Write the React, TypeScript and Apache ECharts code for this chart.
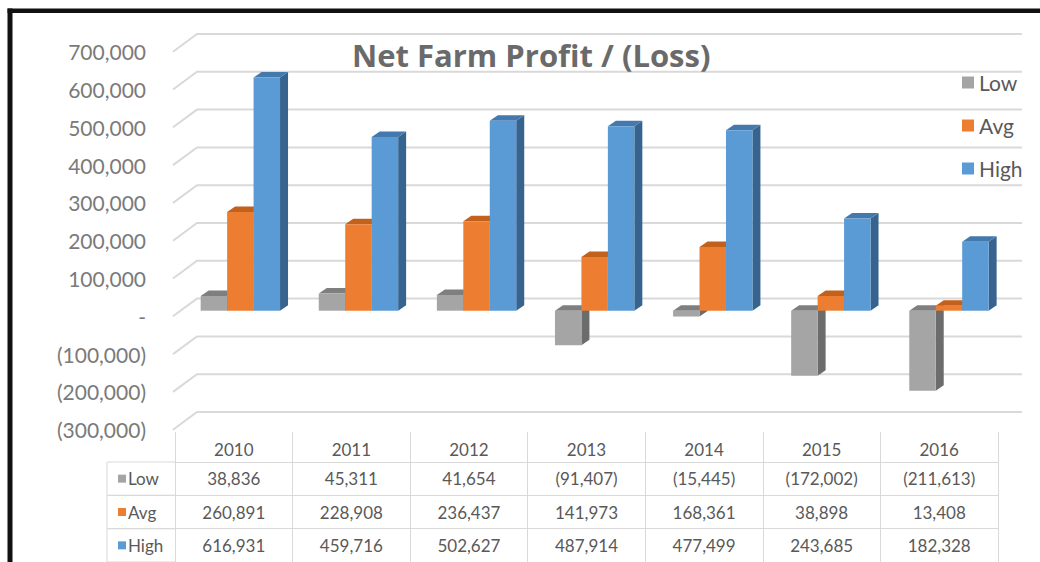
import React, { useEffect, useRef } from "react";
import * as echarts from "echarts";

const years = ["2010", "2011", "2012", "2013", "2014", "2015", "2016"];
const seriesNames = ["Low", "Avg", "High"];
const lowValues = [38836, 45311, 41654, -91407, -15445, -172002, -211613];
const avgValues = [260891, 228908, 236437, 141973, 168361, 38898, 13408];
const highValues = [616931, 459716, 502627, 487914, 477499, 243685, 182328];
const yTicks = [-300000, -200000, -100000, 0, 100000, 200000, 300000, 400000, 500000, 600000, 700000];

const frontColors = ["#a5a5a5", "#ed7d31", "#5b9bd5"];
const topColors = ["#7f7f7f", "#c2601d", "#4479ae"];
const sideColors = ["#6c6c6c", "#a9521a", "#37648f"];

const FONT = "Lato";
const fmt = (v: number) => {
  const s = Math.abs(v).toLocaleString("en-US");
  return v < 0 ? `(${s})` : s;
};

const allValues = [lowValues, avgValues, highValues];

export default function App() {
  const ref = useRef<HTMLDivElement>(null);
  useEffect(() => {
    if (!ref.current) return;
    const chart = echarts.init(ref.current, undefined, { renderer: "svg" });
    const DX = 8;
    const DY = -5.5;

    const barSeries = allValues.map((vals, k) => ({
      type: "custom",
      name: seriesNames[k],
      xAxisIndex: 0,
      yAxisIndex: 0,
      z: 3 + k,
      itemStyle: { color: frontColors[k] },
      data: vals.map((v, i) => [i, v]),
      encode: { x: 0, y: 1 },
      renderItem: (params: any, api: any) => {
        const i = api.value(0);
        const v = api.value(1);
        const band = api.size([1, 0])[0];
        const bw = band * 0.224;
        const c0 = api.coord([i, 0]);
        const cv = api.coord([i, v]);
        const x0 = c0[0] - 1.5 * bw + k * bw;
        const x1 = x0 + bw;
        const yTop = Math.min(c0[1], cv[1]);
        const yBot = Math.max(c0[1], cv[1]);
        return {
          type: "group",
          children: [
            {
              type: "polygon",
              shape: { points: [[x1, yTop], [x1 + DX, yTop + DY], [x1 + DX, yBot + DY], [x1, yBot]] },
              style: { fill: sideColors[k] },
            },
            {
              type: "polygon",
              shape: { points: [[x0, yTop], [x1, yTop], [x1 + DX, yTop + DY], [x0 + DX, yTop + DY]] },
              style: { fill: topColors[k] },
            },
            {
              type: "rect",
              shape: { x: x0, y: yTop, width: bw, height: Math.max(yBot - yTop, 0.5) },
              style: { fill: frontColors[k] },
            },
          ],
        };
      },
    }));

    const gridSeries = {
      type: "custom",
      name: "grid",
      xAxisIndex: 1,
      yAxisIndex: 1,
      z: 1,
      silent: true,
      data: yTicks.map((v) => [0, v]),
      encode: { x: 0, y: 1 },
      renderItem: (params: any, api: any) => {
        const cs = params.coordSys;
        const y = api.coord([0, api.value(1)])[1];
        return {
          type: "polyline",
          shape: {
            points: [
              [cs.x - 2, y],
              [cs.x + 22, y - 17.7],
              [cs.x + cs.width + 24, y - 17.7],
            ],
          },
          style: { stroke: "#d9d9d9", lineWidth: 2, fill: null },
        };
      },
    };

    const tableData: any[] = [];
    allValues.forEach((vals, r) => vals.forEach((v, i) => tableData.push([i, r, v])));

    const tableSeries = {
      type: "custom",
      name: "table",
      xAxisIndex: 2,
      yAxisIndex: 2,
      z: 2,
      silent: true,
      data: tableData,
      encode: { x: 0, y: 1 },
      renderItem: (params: any, api: any) => {
        const p = api.coord([api.value(0), api.value(1)]);
        return {
          type: "text",
          x: p[0],
          y: p[1],
          style: {
            text: fmt(api.value(2)),
            fill: "#595959",
            font: `17px ${FONT}`,
            align: "center",
            verticalAlign: "middle",
          },
        };
      },
    };

    const rowLabelSeries = {
      type: "custom",
      name: "rowLabels",
      xAxisIndex: 2,
      yAxisIndex: 2,
      z: 2,
      silent: true,
      data: seriesNames.map((n, r) => [0, r]),
      encode: { x: 0, y: 1 },
      renderItem: (params: any, api: any) => {
        const cs = params.coordSys;
        const r = api.value(1);
        const y = api.coord([0, r])[1];
        const h = api.size([0, 1])[1];
        const lx = cs.x - 68;
        return {
          type: "group",
          children: [
            { type: "line", shape: { x1: lx, y1: y - h / 2, x2: cs.x, y2: y - h / 2 }, style: { stroke: "#d9d9d9", lineWidth: 1 } },
            { type: "line", shape: { x1: lx, y1: y + h / 2, x2: cs.x, y2: y + h / 2 }, style: { stroke: "#d9d9d9", lineWidth: 1 } },
            { type: "line", shape: { x1: lx, y1: y - h / 2, x2: lx, y2: y + h / 2 }, style: { stroke: "#d9d9d9", lineWidth: 1 } },
            { type: "rect", shape: { x: cs.x - 57, y: y - 4, width: 8, height: 8 }, style: { fill: frontColors[r] } },
            {
              type: "text",
              x: cs.x - 47,
              y: y,
              style: { text: seriesNames[r], fill: "#595959", font: `17px ${FONT}`, align: "left", verticalAlign: "middle" },
            },
          ],
        };
      },
    };

    chart.setOption({
      animation: false,
      backgroundColor: "#ffffff",
      textStyle: { fontFamily: FONT },
      title: {
        text: "Net Farm Profit / (Loss)",
        left: 352,
        top: 39,
        padding: 0,
        textStyle: { fontSize: 31, fontWeight: "bold", color: "#6a6a6a", fontFamily: "Open Sans" },
      },
      legend: {
        data: seriesNames,
        orient: "vertical",
        left: 962,
        top: 72,
        padding: 0,
        itemWidth: 12,
        itemHeight: 12,
        itemGap: 22,
        icon: "rect",
        textStyle: { fontSize: 21, color: "#595959", fontFamily: FONT },
      },
      graphic: [
        { type: "rect", shape: { x: 7.5, y: 8.5, width: 1040, height: 4.5 }, style: { fill: "#111111" }, z: 100 },
        { type: "rect", shape: { x: 7.5, y: 8.5, width: 5, height: 560 }, style: { fill: "#111111" }, z: 100 },
      ],
      grid: [
        { left: 181.3, top: 46.1, width: 826.7, height: 378 },
        { left: 175, top: 51.7, width: 823, height: 378 },
        { left: 175, top: 462, width: 823, height: 101 },
      ],
      xAxis: [
        { gridIndex: 0, type: "category", data: years, show: false },
        { gridIndex: 1, type: "category", data: years, show: false },
        {
          gridIndex: 2,
          type: "category",
          data: years,
          position: "top",
          axisLabel: { show: true, margin: 4, fontSize: 17, color: "#595959", fontFamily: FONT },
          axisLine: { show: true, lineStyle: { color: "#d9d9d9", width: 1 } },
          axisTick: { show: true, alignWithLabel: false, length: 30, lineStyle: { color: "#d9d9d9", width: 1 } },
          splitLine: { show: true, lineStyle: { color: "#d9d9d9", width: 1 } },
        },
      ],
      yAxis: [
        { gridIndex: 0, type: "value", min: -300000, max: 700000, interval: 100000, show: false },
        {
          gridIndex: 1,
          type: "value",
          min: -300000,
          max: 700000,
          interval: 100000,
          axisLine: { show: false },
          axisTick: { show: false },
          splitLine: { show: false },
          axisLabel: {
            margin: 29,
            fontSize: 21,
            color: "#7a7a7a",
            fontFamily: FONT,
            formatter: (v: number) => (v === 0 ? "-" : fmt(v)),
          },
        },
        {
          gridIndex: 2,
          type: "category",
          data: seriesNames,
          inverse: true,
          axisLabel: { show: false },
          axisLine: { show: false },
          axisTick: { show: false },
          splitLine: { show: true, lineStyle: { color: "#d9d9d9", width: 1 } },
        },
      ],
      series: [gridSeries, ...barSeries, tableSeries, rowLabelSeries],
    });
    return () => chart.dispose();
  }, []);
  return <div ref={ref} style={{ position: "absolute", left: 0, top: 0, width: 1040, height: 562 }} />;
}
